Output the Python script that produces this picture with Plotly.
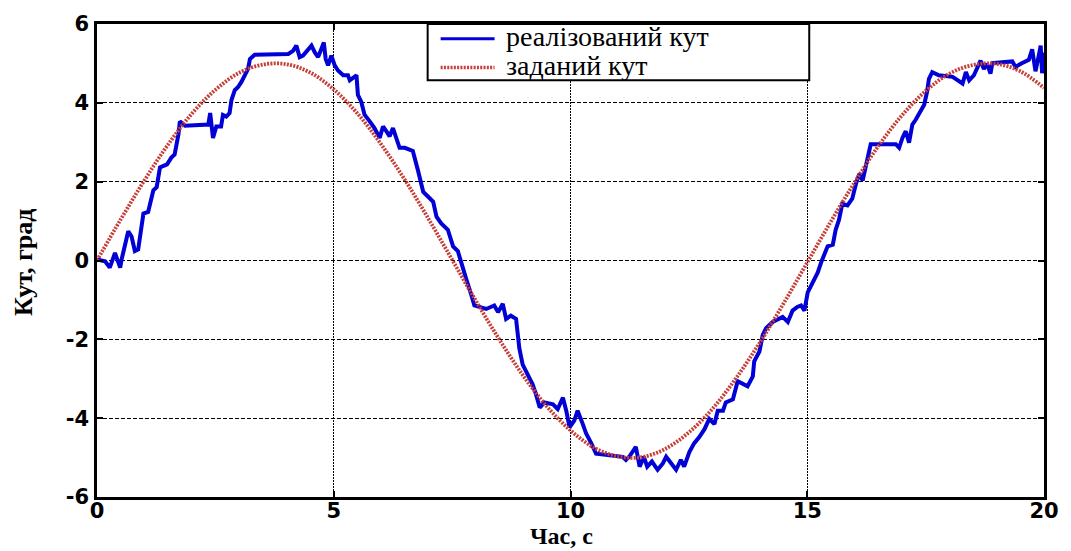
import plotly.graph_objects as go

# ---------------- data ----------------
time_set = [0.0, 0.5, 1.0, 1.5, 2.0, 2.5, 3.0, 3.5, 4.0, 4.5, 5.0, 5.5, 6.0, 6.5,
            7.0, 7.5, 8.0, 8.5, 9.0, 9.5, 10.0, 10.5, 11.0, 11.5, 12.0, 12.5,
            13.0, 13.5, 14.0, 14.5, 15.0, 15.5, 16.0, 16.5, 17.0, 17.5, 18.0,
            18.5, 19.0, 19.5, 20.0]
angle_set = [0.0, 1.04, 2.03, 2.94, 3.72, 4.33, 4.76, 4.97, 4.98, 4.77, 4.34,
             3.73, 2.95, 2.05, 1.06, 0.02, -1.02, -2.01, -2.92, -3.70, -4.31,
             -4.75, -4.97, -4.99, -4.78, -4.36, -3.76, -2.98, -2.08, -1.09,
             -0.05, 0.99, 1.98, 2.90, 3.68, 4.30, 4.74, 4.96, 4.99, 4.80, 4.38]

time_real = [0.00, 0.17, 0.27, 0.38, 0.49, 0.52, 0.66, 0.73, 0.80, 0.87, 0.98,
             1.08, 1.19, 1.26, 1.33, 1.48, 1.57, 1.64, 1.72, 1.75, 1.86, 2.35,
             2.39, 2.45, 2.52, 2.62, 2.66, 2.73, 2.80, 2.84, 2.91, 2.98, 3.05,
             3.12, 3.19, 3.23, 3.33, 4.04, 4.14, 4.21, 4.28, 4.35, 4.45, 4.53,
             4.60, 4.67, 4.74, 4.79, 4.83, 4.88, 4.95, 5.02, 5.09, 5.20, 5.30,
             5.34, 5.48, 5.51, 5.58, 5.65, 5.76, 5.86, 5.97, 6.04, 6.11, 6.18,
             6.25, 6.32, 6.39, 6.50, 6.60, 6.67, 6.78, 6.89, 7.00, 7.10, 7.17,
             7.27, 7.41, 7.52, 7.62, 7.69, 7.80, 7.91, 7.97, 8.22, 8.39, 8.47,
             8.57, 8.64, 8.74, 8.85, 8.92, 8.99, 9.10, 9.20, 9.27, 9.35, 9.45,
             9.63, 9.73, 9.84, 9.91, 9.98, 10.08, 10.15, 10.26, 10.33, 10.44,
             10.54, 11.10, 11.17, 11.24, 11.38, 11.46, 11.55, 11.62, 11.72,
             11.84, 11.95, 12.02, 12.12, 12.23, 12.33, 12.40, 12.51, 12.61,
             12.72, 12.83, 12.93, 13.04, 13.11, 13.22, 13.28, 13.43, 13.53,
             13.64, 13.74, 13.85, 13.88, 13.99, 14.06, 14.13, 14.27, 14.48,
             14.59, 14.69, 14.79, 14.87, 14.94, 15.01, 15.08, 15.15, 15.22,
             15.29, 15.36, 15.43, 15.54, 15.60, 15.67, 15.74, 15.85, 15.95,
             16.03, 16.10, 16.17, 16.27, 16.34, 16.87, 16.94, 17.01, 17.08,
             17.15, 17.22, 17.29, 17.39, 17.47, 17.53, 17.57, 17.64, 17.78,
             18.07, 18.17, 18.28, 18.35, 18.42, 18.52, 18.60, 18.66, 18.73,
             18.80, 18.87, 18.91, 19.33, 19.40, 19.51, 19.68, 19.75, 19.82,
             19.89, 19.93, 19.96, 20.00]
angle_real = [0.03, -0.02, -0.18, 0.19, -0.18, 0.03, 0.74, 0.61, 0.24, 0.28,
              1.19, 1.23, 1.78, 1.86, 2.36, 2.44, 2.61, 2.69, 3.20, 3.53, 3.42,
              3.45, 3.74, 3.11, 3.40, 3.40, 3.69, 3.65, 3.74, 4.07, 4.32, 4.40,
              4.53, 4.70, 4.86, 5.11, 5.22, 5.24, 5.32, 5.45, 5.16, 5.20, 5.32,
              5.45, 5.28, 5.16, 5.37, 5.53, 5.11, 4.95, 5.20, 4.95, 4.82, 4.70,
              4.70, 4.57, 4.70, 4.20, 4.03, 3.70, 3.53, 3.36, 3.11, 3.40, 3.28,
              3.15, 3.36, 3.11, 2.86, 2.86, 2.80, 2.78, 2.28, 1.74, 1.61, 1.49,
              1.11, 0.94, 0.78, 0.36, 0.24, -0.06, -0.48, -0.89, -1.14, -1.23,
              -1.14, -1.31, -1.10, -1.48, -1.40, -1.48, -2.23, -2.64, -2.89,
              -3.14, -3.39, -3.73, -3.60, -3.65, -3.77, -3.48, -3.81, -4.23,
              -4.06, -3.81, -4.15, -4.39, -4.64, -4.90, -4.98, -5.06, -4.98,
              -4.73, -5.23, -4.98, -5.23, -5.10, -5.31, -5.15, -4.98, -5.15,
              -5.31, -5.06, -5.23, -4.86, -4.64, -4.48, -4.28, -4.02, -4.15,
              -3.81, -3.81, -3.60, -3.52, -3.06, -3.14, -3.19, -2.94, -2.56,
              -2.31, -1.89, -1.72, -1.56, -1.43, -1.56, -1.27, -1.18, -1.14,
              -1.27, -0.81, -0.64, -0.43, -0.31, -0.06, 0.15, 0.36, 0.40, 0.78,
              1.03, 1.44, 1.40, 1.57, 1.95, 2.20, 2.03, 2.53, 2.95, 2.95, 2.86,
              3.11, 3.28, 2.99, 3.45, 3.57, 3.78, 3.95, 4.28, 4.61, 4.78, 4.70,
              4.66, 4.57, 4.49, 4.78, 4.57, 4.70, 4.95, 5.07, 4.86, 4.99, 4.74,
              5.01, 5.05, 4.91, 4.99, 5.09, 5.36, 4.80, 5.20, 5.45, 4.75, 5.28]

x_ticks = [0, 5, 10, 15, 20]
x_tick_text = ["0", "5", "10", "15", "20"]
y_ticks = [-6, -4, -2, 0, 2, 4, 6]
y_tick_text = ["-6", "-4", "-2", "0", "2", "4", "6"]

name_real = "реалізований кут"
name_set = "заданий кут"
x_title = "Час, с"
y_title = "Кут, град"

# ---------------- style ----------------
W, H = 1071, 551
L, R, T, B = 97, 26, 18, 54
BLUE = "rgb(0,0,215)"
RED = "rgb(198,62,56)"
RED_DASH = "2px,1.3px"
SERIF = "Liberation Serif"


def px_x(px):
    return (px - L) / (W - L - R)


def px_y(py):
    return (H - B - py) / (H - T - B)


fig = go.Figure()
fig.add_trace(go.Scatter(x=time_real, y=angle_real, mode="lines", name=name_real,
                         line=dict(color=BLUE, width=4), showlegend=False))
fig.add_trace(go.Scatter(x=time_set, y=angle_set, mode="lines", name=name_set,
                         line=dict(color=RED, width=3.8, dash=RED_DASH, shape="spline"),
                         showlegend=False))

axis_common = dict(
    showline=True, linecolor="black", linewidth=2.5, mirror="ticks",
    ticks="inside", ticklen=6, tickwidth=2, tickcolor="black",
    showgrid=True, gridcolor="black", gridwidth=1, zeroline=False,
    tickfont=dict(family="DejaVu Sans", size=21, color="black", weight="bold"),
)

fig.update_xaxes(range=[0, 20], tickvals=x_ticks, ticktext=x_tick_text,
                 griddash="2px,1px", ticklabelstandoff=-7, **axis_common)
fig.update_yaxes(range=[-6, 6], tickvals=y_ticks, ticktext=y_tick_text,
                 griddash="4px,2px", ticklabelstandoff=1, **axis_common)

# legend box (manual, MATLAB style)
fig.add_shape(type="rect", xref="paper", yref="paper",
              x0=px_x(428), x1=px_x(810), y0=px_y(75), y1=px_y(18),
              fillcolor="white", line=dict(color="black", width=2), layer="above")
fig.add_shape(type="line", xref="paper", yref="paper",
              x0=px_x(441), x1=px_x(495), y0=px_y(33), y1=px_y(33),
              line=dict(color=BLUE, width=3), layer="above")
fig.add_shape(type="line", xref="paper", yref="paper",
              x0=px_x(441), x1=px_x(495), y0=px_y(62), y1=px_y(62),
              line=dict(color=RED, width=3.5, dash=RED_DASH), layer="above")
legend_font = dict(family=SERIF, size=28, color="black")
fig.add_annotation(xref="paper", yref="paper", x=px_x(504), y=px_y(31),
                   text=name_real, showarrow=False, xanchor="left", yanchor="middle",
                   font=legend_font)
fig.add_annotation(xref="paper", yref="paper", x=px_x(504), y=px_y(60),
                   text=name_set, showarrow=False, xanchor="left", yanchor="middle",
                   font=legend_font)

title_font = dict(family=SERIF, size=24, color="black", weight="bold")
fig.add_annotation(xref="paper", yref="paper", x=px_x(562), y=px_y(537),
                   text=x_title, showarrow=False, xanchor="center", yanchor="middle",
                   font=title_font)
fig.add_annotation(xref="paper", yref="paper", x=px_x(24), y=px_y(260),
                   text=y_title, showarrow=False, xanchor="center", yanchor="middle",
                   textangle=-90, font=dict(family=SERIF, size=26, color="black", weight="bold"))

fig.update_layout(width=W, height=H, margin=dict(l=L, r=R, t=T, b=B, pad=0),
                  paper_bgcolor="white", plot_bgcolor="white", showlegend=False)

fig.write_html("out.html")
